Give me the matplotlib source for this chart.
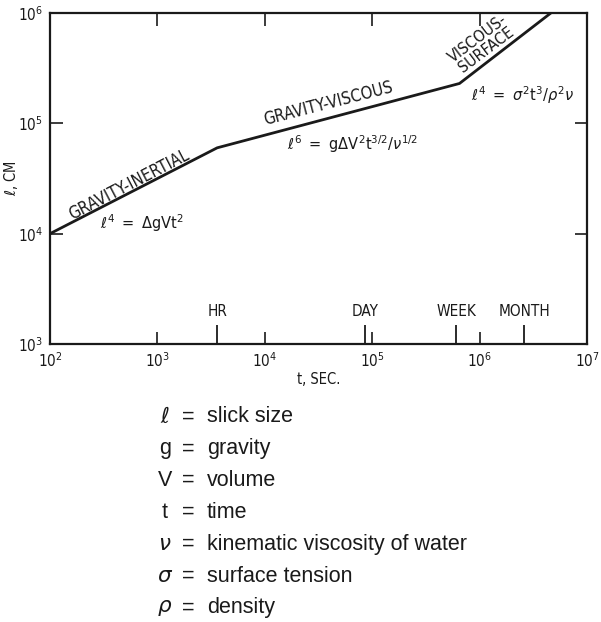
import numpy as np
import matplotlib
matplotlib.use("Agg")
import matplotlib.pyplot as plt

# slick size vs time, piecewise power-law regimes
t_sec = [1e2, 3.6e3, 6.5e5, 4.6e6]
slick_cm = [1e4, 6.0e4, 2.3e5, 1e6]

# time markers along the bottom
mark_t = [3600, 86400, 604800, 2.6e6]
mark_lbl = ["HR", "DAY", "WEEK", "MONTH"]

# regime labels (text, x, y, angle)
regime_txt = ["GRAVITY-INERTIAL", "GRAVITY-VISCOUS", "VISCOUS-\nSURFACE"]
regime_x = [5.4e2, 3.9e4, 1.05e6]
regime_y = [2.8e4, 1.5e5, 5.2e5]
regime_rot = [27.5, 14.5, 37]
regime_size = [12, 12, 11.5]

formula_txt = [r"$\ell^4\ =\ \Delta\mathrm{gV t}^2$",
               r"$\ell^6\ =\ \mathrm{g}\Delta\mathrm{V}^2 \mathrm{t}^{3/2}/\nu^{1/2}$",
               r"$\ell^4\ =\ \sigma^2 \mathrm{t}^3/\rho^2\nu$"]
formula_x = [2.9e2, 1.6e4, 8.3e5]
formula_y = [1.25e4, 6.5e4, 1.8e5]

# symbol definitions under the chart
sym = [r"$\ell$", "g", "V", "t", r"$\nu$", r"$\sigma$", r"$\rho$"]
sym_desc = ["slick size", "gravity", "volume", "time",
            "kinematic viscosity of water", "surface tension", "density"]

plt.rcParams["font.family"] = ["DejaVu Sans"]
plt.rcParams["mathtext.fontset"] = "dejavusans"
cond = dict(family="DejaVu Sans", stretch="condensed")

fig = plt.figure(figsize=(6.01, 6.22), dpi=100)
ax = fig.add_axes([0.0832, 0.447, 0.8935, 0.532])

ax.plot(t_sec, slick_cm, color="#1a1a1a", lw=2.0, solid_joinstyle="miter")
ax.set_xscale("log")
ax.set_yscale("log")
ax.set_xlim(1e2, 1e7)
ax.set_ylim(1e3, 1e6)
ax.minorticks_off()
ax.set_xticks([1e2, 1e3, 1e4, 1e5, 1e6, 1e7])
ax.set_yticks([1e3, 1e4, 1e5, 1e6])
ax.tick_params(which="major", direction="in", length=9, width=1.2,
               top=True, right=True, labelsize=11, pad=5, colors="#1a1a1a")
for sp in ax.spines.values():
    sp.set_linewidth(1.6)
    sp.set_color("#1a1a1a")

for tl in ax.get_xticklabels() + ax.get_yticklabels():
    tl.set_fontstretch("condensed")

# long ticks for hour/day/week/month
xt = ax.get_xaxis_transform()
ax.vlines(mark_t, 0, 0.058, transform=xt, color="#1a1a1a", lw=1.3)
for x, s in zip(mark_t, mark_lbl):
    ax.text(x, 0.075, s, transform=xt, ha="center", va="bottom",
            fontsize=11, color="#1a1a1a", **cond)

for s, x, y, r, fs in zip(regime_txt, regime_x, regime_y, regime_rot, regime_size):
    ax.text(x, y, s, rotation=r, rotation_mode="anchor", ha="center",
            va="center", fontsize=fs, color="#1a1a1a",
            linespacing=0.95, **cond)

for s, x, y in zip(formula_txt, formula_x, formula_y):
    ax.text(x, y, s, ha="left", va="center", fontsize=10.5, color="#1a1a1a")

ax.set_xlabel("t, SEC.", fontsize=10.5, color="#1a1a1a", labelpad=2, **cond)
ax.set_ylabel(r"$\ell$, CM", fontsize=10.5, color="#1a1a1a", **cond)
ax.yaxis.set_label_coords(-0.055, 0.5)

for i, (a, b) in enumerate(zip(sym, sym_desc)):
    yy = 1 - (417 + i * 31.8) / 622
    fig.text(165 / 601, yy, a, ha="center", va="center", fontsize=15.5,
             color="#1a1a1a", family="Liberation Sans")
    fig.text(188 / 601, yy, "=", ha="center", va="center", fontsize=15.5,
             color="#1a1a1a", family="Liberation Sans")
    fig.text(207 / 601, yy, b, ha="left", va="center", fontsize=15.5,
             color="#1a1a1a", family="Liberation Sans")

fig.savefig("out.png", dpi=100)
